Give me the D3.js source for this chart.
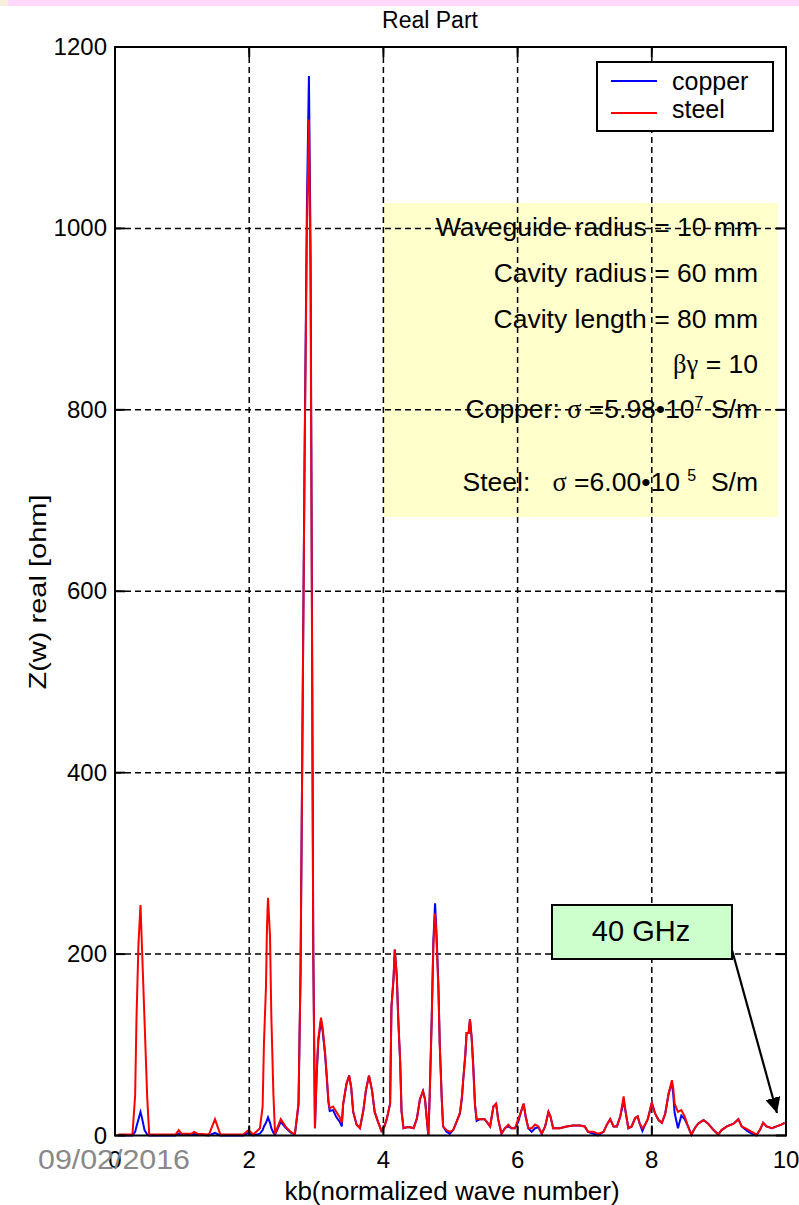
<!DOCTYPE html>
<html lang="en">
<head>
<meta charset="UTF-8">
<title>Real Part</title>
<script src="https://d3js.org/d3.v7.min.js"></script>
<style>
body { margin: 0; background: #fff; }
text { font-family: "Liberation Sans", Arial, sans-serif; }
.grid line { stroke: #000; stroke-width: 1.5; stroke-dasharray: 6,4; }
</style>
</head>
<body>
<svg width="799" height="1205"></svg>
<script>
// kb (normalized wave number) sample points, shared by both curves
const kb = [0.05,0.26,0.30,0.32,0.35,0.38,0.40,0.44,0.48,0.51,0.90,0.95,0.99,1.14,1.18,1.23,1.40,1.49,1.57,1.91,1.99,2.06,
  2.16,2.20,2.22,2.25,2.265,2.28,2.31,2.33,2.36,2.385,2.47,2.55,2.62,2.68,2.71,2.735,2.765,2.795,2.825,2.86,2.89,2.915,2.935,2.955,2.98,
  3.005,3.03,3.07,3.095,3.13,3.155,3.18,3.20,3.25,3.30,3.35,3.38,3.40,3.45,3.49,3.52,3.55,3.60,3.65,3.70,3.74,3.785,3.83,3.87,3.92,3.97,
  4.01,4.05,4.10,4.12,4.15,4.17,4.20,4.22,4.25,4.27,4.30,4.35,4.40,4.45,4.50,4.545,4.59,4.62,4.645,4.67,4.69,4.72,4.745,4.77,4.79,4.82,4.84,4.87,4.89,4.94,4.99,
  5.04,5.09,5.14,5.17,5.19,5.22,5.24,5.27,5.29,5.315,5.34,5.365,5.39,5.44,5.51,5.59,5.64,5.68,5.71,5.76,5.81,5.86,5.91,5.96,
  6.01,6.05,6.09,6.12,6.16,6.21,6.26,6.31,6.36,6.41,6.46,6.49,6.53,6.58,6.63,6.73,6.83,6.93,
  7.00,7.05,7.13,7.20,7.28,7.33,7.38,7.43,7.48,7.53,7.58,7.61,7.65,7.70,7.75,7.79,7.82,7.86,7.90,7.94,7.98,
  8.00,8.05,8.10,8.15,8.20,8.25,8.30,8.32,8.34,8.39,8.44,8.49,8.54,8.59,8.64,8.69,8.77,8.84,8.92,8.99,
  9.04,9.12,9.22,9.29,9.34,9.42,9.49,9.56,9.61,9.66,9.71,9.79,9.86,9.93,9.98];

const steel = [1,1,44,128,212,254,212,127,42,1,1,6,2,2,4,2,1,18,1,1,6,1,
  8,32,102,164,229,262,220,131,47,2,18,9,4,1,20,36,180,455,740,1000,1120,935,565,200,8,
  69,107,130,118,92,67,39,30,32,26,20,14,35,57,66,53,26,12,8,27,50,66,50,26,15,5,
  9,18,35,142,172,205,175,131,81,27,8,9,9,8,19,40,49,40,19,0,44,127,210,245,220,160,100,40,10,6,4,
  6,15,25,43,62,88,113,113,128,108,72,34,18,18,18,10,32,35,18,2,8,12,8,8,
  18,26,35,21,8,8,12,10,2,10,26,21,8,8,8,10,11,11,
  10,4,4,2,4,12,18,10,10,21,43,26,8,10,19,21,13,8,12,18,30,
  36,24,17,14,24,46,61,52,35,26,28,21,10,1,8,13,17,13,6,1,
  6,10,13,18,10,7,4,1,6,14,10,8,10,12,14];

const copper = [0,0,4,10,18,26,20,6,1,0,0,2,1,1,2,1,0,3,0,0,3,0,
  2,6,10,14,17,20,14,8,3,1,15,8,3,1,18,34,178,460,745,1025,1168,972,590,205,8,
  66,104,127,115,90,65,37,27,28,20,15,10,34,57,66,53,26,12,8,27,50,66,50,26,15,5,
  9,18,35,142,172,205,175,131,81,27,8,9,9,8,19,40,49,40,19,0,44,130,215,256,225,165,100,40,10,4,2,
  6,15,24,41,62,88,113,113,128,108,77,34,16,18,18,10,32,35,18,2,8,10,8,8,
  15,26,35,21,8,4,8,9,2,10,26,21,8,8,8,10,11,11,
  10,4,2,0,4,12,18,10,10,21,38,26,8,10,19,21,13,5,12,18,30,
  36,24,17,14,24,46,58,45,25,8,22,18,10,1,8,13,17,13,6,1,
  6,10,13,18,10,5,2,0,6,14,10,8,10,12,14];

const xTicks = [0, 2, 4, 6, 8, 10];
const yTicks = [0, 200, 400, 600, 800, 1000, 1200];
const seriesNames = ["copper", "steel"];
const seriesColors = ["#0000ff", "#ff0000"];

const infoLines = [
  "Waveguide radius = 10 mm",
  "Cavity radius = 60 mm",
  "Cavity length = 80 mm"
];

var svg = d3.select("svg");
var pLeft = 115, pRight = 786, pTop = 47, pBottom = 1135.5;

var x = d3.scaleLinear().domain([0, 10]).range([pLeft, pRight]);
var y = d3.scaleLinear().domain([0, 1200]).range([pBottom, pTop]);

// slide decoration band
svg.append("rect").attr("x", 0).attr("y", 0).attr("width", 8).attr("height", 6).attr("fill", "#f8f0dc");
svg.append("rect").attr("x", 8).attr("y", 0).attr("width", 791).attr("height", 6).attr("fill", "#fdd8fa");

// annotation box (under the grid, grid shows through it)
var info = svg.append("g");
info.append("rect")
  .attr("x", 384).attr("y", 203).attr("width", 394).attr("height", 314)
  .attr("fill", "#ffffcc");

var tx = 758;
infoLines.forEach(function(s, i) {
  info.append("text").attr("x", tx).attr("y", [236, 282, 328][i])
    .attr("text-anchor", "end").attr("font-size", 26.5).text(s);
});
var bg = info.append("text").attr("x", tx).attr("y", 373).attr("text-anchor", "end").attr("font-size", 26.5);
bg.append("tspan").attr("font-family", "Liberation Serif, serif").text("\u03b2\u03b3");
bg.append("tspan").text(" = 10");

var cu = info.append("text").attr("x", tx).attr("y", 418).attr("text-anchor", "end").attr("font-size", 26.5);
cu.append("tspan").text("Copper: ");
cu.append("tspan").attr("font-family", "Liberation Serif, serif").text("\u03c3");
cu.append("tspan").text(" =5.98\u202210");
cu.append("tspan").attr("font-size", 16).attr("dy", -10).text("7");
cu.append("tspan").attr("dy", 10).text(" S/m");

var st = info.append("text").attr("x", tx).attr("y", 491).attr("text-anchor", "end").attr("font-size", 26.5)
  .attr("xml:space", "preserve");
st.append("tspan").text("Steel:   ");
st.append("tspan").attr("font-family", "Liberation Serif, serif").text("\u03c3");
st.append("tspan").text(" =6.00\u202210 ");
st.append("tspan").attr("font-size", 16).attr("dy", -10).text("5");
st.append("tspan").attr("dy", 10).text("  S/m");

// grid
var grid = svg.append("g").attr("class", "grid");
grid.selectAll(".gx").data(xTicks.slice(1, -1)).enter().append("line")
  .attr("x1", function(d) { return x(d); }).attr("x2", function(d) { return x(d); })
  .attr("y1", pTop).attr("y2", pBottom);
grid.selectAll(".gy").data(yTicks.slice(1, -1)).enter().append("line")
  .attr("y1", function(d) { return y(d); }).attr("y2", function(d) { return y(d); })
  .attr("x1", pLeft).attr("x2", pRight);

// data
var pts = kb.map(function(k, i) { return {k: k, s: steel[i], c: copper[i]}; });
var lineC = d3.line().x(function(d) { return x(d.k); }).y(function(d) { return y(d.c); });
var lineS = d3.line().x(function(d) { return x(d.k); }).y(function(d) { return y(d.s); });
svg.append("path").datum(pts).attr("d", lineC).attr("fill", "none")
  .attr("stroke", seriesColors[0]).attr("stroke-width", 2);
svg.append("path").datum(pts).attr("d", lineS).attr("fill", "none")
  .attr("stroke", seriesColors[1]).attr("stroke-width", 2);

// axes box and inward ticks
var ax = svg.append("g");
ax.append("rect").attr("x", pLeft).attr("y", pTop).attr("width", pRight - pLeft).attr("height", pBottom - pTop)
  .attr("fill", "none").attr("stroke", "#000").attr("stroke-width", 2);
xTicks.forEach(function(d) {
  ax.append("line").attr("x1", x(d)).attr("x2", x(d)).attr("y1", pBottom).attr("y2", pBottom - 10).attr("stroke", "#000").attr("stroke-width", 2);
  ax.append("line").attr("x1", x(d)).attr("x2", x(d)).attr("y1", pTop).attr("y2", pTop + 10).attr("stroke", "#000").attr("stroke-width", 2);
  ax.append("text").attr("x", x(d)).attr("y", 1168).attr("text-anchor", "middle").attr("font-size", 24).text(d);
});
yTicks.forEach(function(d) {
  ax.append("line").attr("y1", y(d)).attr("y2", y(d)).attr("x1", pLeft).attr("x2", pLeft + 10).attr("stroke", "#000").attr("stroke-width", 2);
  ax.append("line").attr("y1", y(d)).attr("y2", y(d)).attr("x1", pRight).attr("x2", pRight - 10).attr("stroke", "#000").attr("stroke-width", 2);
  ax.append("text").attr("x", 107).attr("y", y(d) + 8).attr("text-anchor", "end").attr("font-size", 24).text(d);
});

svg.append("text").attr("x", 430).attr("y", 28).attr("text-anchor", "middle").attr("font-size", 23).text("Real Part");
svg.append("text").attr("x", 452).attr("y", 1200).attr("text-anchor", "middle").attr("font-size", 26)
  .text("kb(normalized wave number)");
svg.append("text").attr("transform", "translate(46,592) rotate(-90)").attr("text-anchor", "middle")
  .attr("font-size", 24).attr("textLength", 195).attr("lengthAdjust", "spacingAndGlyphs")
  .text("Z(w) real [ohm]");

// legend
var lg = svg.append("g");
lg.append("rect").attr("x", 597).attr("y", 62).attr("width", 176).attr("height", 69)
  .attr("fill", "#fff").attr("stroke", "#000").attr("stroke-width", 2);
seriesNames.forEach(function(n, i) {
  lg.append("line").attr("x1", 611).attr("x2", 657).attr("y1", 81 + i * 32).attr("y2", 81 + i * 32)
    .attr("stroke", seriesColors[i]).attr("stroke-width", 2);
  lg.append("text").attr("x", 672).attr("y", 90 + i * 28).attr("font-size", 25).text(n);
});

// 40 GHz callout
svg.append("defs").append("marker").attr("id", "arr").attr("viewBox", "0 0 10 10")
  .attr("refX", 10).attr("refY", 5).attr("markerWidth", 7).attr("markerHeight", 7)
  .attr("orient", "auto").attr("markerUnits", "strokeWidth")
  .append("path").attr("d", "M0,0 L10,5 L0,10 z").attr("fill", "#000");
svg.append("line").attr("x1", 732).attr("y1", 950).attr("x2", 777).attr("y2", 1113)
  .attr("stroke", "#000").attr("stroke-width", 2.2).attr("marker-end", "url(#arr)");
svg.append("rect").attr("x", 552).attr("y", 905).attr("width", 180).attr("height", 54)
  .attr("fill", "#ccffcc").attr("stroke", "#000").attr("stroke-width", 2);
svg.append("text").attr("x", 641).attr("y", 941).attr("text-anchor", "middle")
  .attr("font-family", "DejaVu Sans, sans-serif").attr("font-size", 29).text("40 GHz");

// slide date
svg.append("text").attr("x", 38).attr("y", 1169).attr("font-family", "Open Sans, sans-serif")
  .attr("font-size", 27).attr("fill", "#898989").attr("textLength", 152).attr("lengthAdjust", "spacingAndGlyphs")
  .text("09/02/2016");
</script>
</body>
</html>
